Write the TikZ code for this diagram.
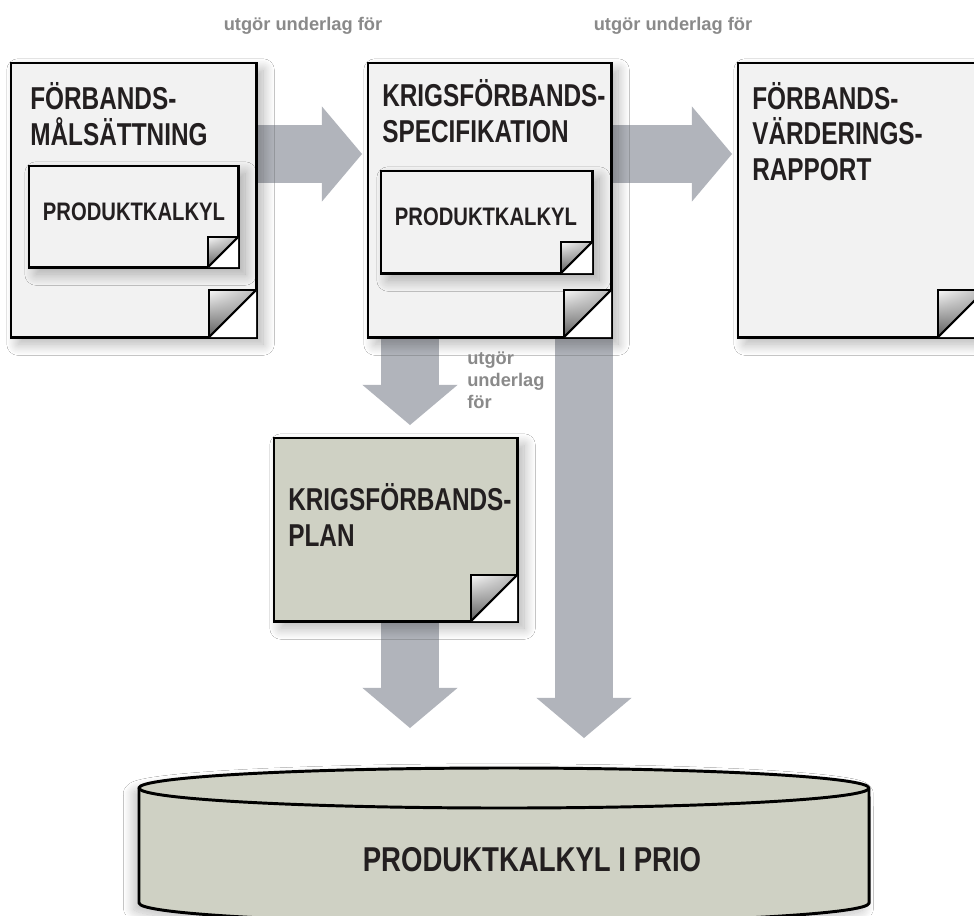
\documentclass[tikz,border=0pt]{standalone}
\usepackage{fontspec}
\setmainfont{Liberation Sans}
\newfontfamily\stencil[FakeStretch=0.8]{Liberation Sans}
\newfontfamily\stenciltitle[FakeStretch=0.77]{Liberation Sans}
\usepackage{tikz}
\usetikzlibrary{positioning,calc,arrows.meta,shadings,shadows.blur}
\pgfdeclarelayer{background}
\pgfsetlayers{background,main}
\definecolor{docfill}{RGB}{242,242,242}
\definecolor{planfill}{RGB}{207,209,196}
\definecolor{flowgray}{RGB}{177,180,187}
\definecolor{notegray}{RGB}{138,138,138}
\definecolor{ink}{RGB}{35,31,32}

% folded corner of a document box: #1 node, #2 size
\newcommand{\pagecurl}[2]{%
    \fill[white] (#1.south east) -- ++(-#2,0) -- ++(#2,-#2) -- cycle;
    \shade[upper left=gray!5, upper right=gray!55, lower left=gray!70!black, lower right=gray]
        (#1.south east) ++(-#2,0) -- ++(0,-#2) -- ++(#2,0) -- cycle;
    \draw[line width=1.5pt] (#1.south east) ++(-#2,0) -- ++(0,-#2) -- ++(#2,0);
    \draw[line width=1.5pt] (#1.south east) ++(-#2,0) -- ++(#2,-#2);
}

\begin{document}
\begin{tikzpicture}[x=0.025cm, y=-0.025cm,
    doc/.style={rectangle, draw=black, line width=2.1pt, fill=docfill, anchor=north west,
        inner sep=0pt, outer sep=0pt,
        blur shadow={shadow xshift=5pt, shadow yshift=-5pt, shadow blur radius=8pt, shadow blur steps=20, shadow opacity=30}},
    plandoc/.style={doc, fill=planfill},
    doctitle/.style={font=\stenciltitle\bfseries\fontsize{22.5}{25}\selectfont, text=ink, align=left, anchor=base west, inner sep=0pt},
    calctext/.style={font=\stencil\bfseries\fontsize{18}{20}\selectfont, text=ink, inner sep=0pt},
    dbtext/.style={font=\stencil\bfseries\fontsize{24.5}{26}\selectfont, text=ink, inner sep=0pt},
    flow/.style={draw=flowgray, line width=41pt, -{Triangle[length=28.5pt, width=67.6pt, line width=0pt]}},
    note/.style={font=\bfseries\fontsize{13}{15.5}\selectfont, text=notegray, align=left, inner sep=0pt}
]
    \useasboundingbox (0,0) rectangle (974,915);

    % Documents
    \node[doc, minimum width=6.125cm, minimum height=6.85cm] (mal) at (11,63) {};
    \node[doc, minimum width=6.075cm, minimum height=6.85cm] (spec) at (368,63) {};
    \node[doc, minimum width=6.175cm, minimum height=6.85cm] (rapp) at (738,63) {};
    \node[plandoc, minimum width=6.075cm, minimum height=4.575cm] (plan) at (274,438) {};
    \node[doc, minimum width=5.225cm, minimum height=2.525cm] (pk1) at (29,166) {};
    \node[doc, minimum width=5.275cm, minimum height=2.55cm] (pk2) at (381,171) {};
    \pagecurl{mal}{47}
    \pagecurl{spec}{47}
    \pagecurl{rapp}{47}
    \pagecurl{plan}{46}
    \pagecurl{pk1}{30}
    \pagecurl{pk2}{31}

    % Titles (placed at the baseline of their last line)
    \node[doctitle] (malt) at (30,145) {FÖRBANDS-\\MÅLSÄTTNING};
    \node[doctitle] (spect) at (382,142) {KRIGSFÖRBANDS-\\SPECIFIKATION};
    \node[doctitle] (rappt) at (752,180) {FÖRBANDS-\\VÄRDERINGS-\\RAPPORT};
    \node[doctitle] (plant) at (288,546) {KRIGSFÖRBANDS-\\PLAN};
    \node[calctext] (pk1t) at (134,212) {PRODUKTKALKYL};
    \node[calctext] (pk2t) at (486,217) {PRODUKTKALKYL};

    % Database
    \coordinate (dbtop) at (504,768);
    \path[fill=planfill, blur shadow={shadow xshift=-4pt, shadow yshift=-4pt, shadow blur radius=7pt, shadow blur steps=20, shadow opacity=25}]
        (139,788) -- (139,903) arc[start angle=180, end angle=360, x radius=9.125cm, y radius=0.5cm]
        -- (869,788) arc[start angle=0, end angle=180, x radius=9.125cm, y radius=0.5cm] -- cycle;
    \draw[line width=2.1pt, line join=round]
        (139,788) -- (139,903) arc[start angle=180, end angle=360, x radius=9.125cm, y radius=0.5cm]
        -- (869,788) arc[start angle=0, end angle=180, x radius=9.125cm, y radius=0.5cm] -- cycle;
    \draw[line width=2.1pt] (139,788) arc[start angle=180, end angle=360, x radius=9.125cm, y radius=0.5cm];
    \node[dbtext] (dbt) at (532,860) {PRODUKTKALKYL I PRIO};

    % Flows
    \begin{pgfonlayer}{background}
        \fill[white] (0,0) rectangle (974,915);
        \draw[flow] ($(mal.north east)+(0,91)$) -- ($(spec.north west)+(-6,91)$);
        \draw[flow] ($(spec.north east)+(0,91)$) -- ($(rapp.north west)+(-6,91)$);
        \draw[flow] ($(spec.south west)+(42,0)$) -- ($(plan.north west)+(136,-13)$);
        \draw[flow] ($(plan.south west)+(136,0)$) -- ($(dbtop)+(-94,-40)$);
        \draw[flow] ($(spec.south west)+(216,0)$) -- ($(dbtop)+(80,-30)$);
    \end{pgfonlayer}

    % Labels
    \node[note, anchor=base] (u1) at (303,30) {utgör underlag för};
    \node[note, anchor=base] (u2) at (673,30) {utgör underlag för};
    \node[note, anchor=base west] (u3) at (467,408) {utgör\\underlag\\för};
\end{tikzpicture}
\end{document}
